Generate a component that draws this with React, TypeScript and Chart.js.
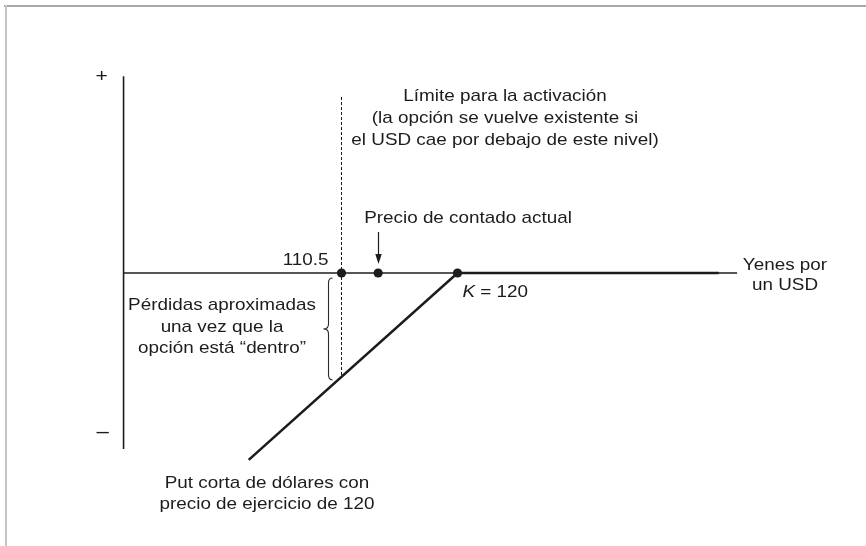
import React, { useEffect, useRef } from "react";
import { Chart, registerables } from "chart.js";

Chart.register(...registerables);

// ---- data (yen per USD on x, payoff on y) ----
const strike = 120;
const barrier = 110.5;
const spot = 113.5;
const payoffX = [102.9, 120, 141.4];
const payoffY = [-17.1, 0, 0];
const axisXRange = [92.65, 142.9];
const axisYRange = [-16.1, 18.0];
const barrierTop = 16.1;
const barrierBottom = -9.5;
const markerX = [barrier, spot, strike];
const markerY = [0, 0, 0];

const INK = "#1e1b1c";
const FONT = '"Liberation Sans", Arial, sans-serif';
const FS = 17;
const SX = 1.11;

function txt(ctx: CanvasRenderingContext2D, s: string, x: number, y: number, align: CanvasTextAlign = "center", style = "", size = FS) {
  ctx.save();
  ctx.font = `${style}${size}px ${FONT}`;
  ctx.fillStyle = INK;
  ctx.textBaseline = "middle";
  ctx.textAlign = align;
  ctx.translate(x, y);
  ctx.scale(SX, 1);
  ctx.fillText(s, 0, 0);
  ctx.restore();
}

const annotations = {
  id: "annotations",
  beforeDraw(chart: any) {
    const ctx = chart.ctx as CanvasRenderingContext2D;
    ctx.save();
    ctx.fillStyle = "#a8a8ac";
    ctx.fillRect(4, 5, 862, 2);
    ctx.fillStyle = "#c4c4c4";
    ctx.fillRect(5, 5, 2, 541);
    ctx.restore();
  },
  afterDraw(chart: any) {
    const ctx = chart.ctx as CanvasRenderingContext2D;
    const xs = chart.scales.x;
    const ys = chart.scales.y;
    const px = (v: number) => xs.getPixelForValue(v);
    const py = (v: number) => ys.getPixelForValue(v);
    const y0 = py(0);

    // + and - signs
    txt(ctx, "+", px(axisXRange[0]) - 22, py(axisYRange[1]) + 1, "center", "", 19);
    txt(ctx, "–", px(axisXRange[0]) - 21, py(axisYRange[0]) - 16, "center", "", 20);

    // barrier text
    txt(ctx, "Límite para la activación", 505, 96);
    txt(ctx, "(la opción se vuelve existente si", 505, 118);
    txt(ctx, "el USD cae por debajo de este nivel)", 505, 140);

    // spot text + arrow
    const sx = Math.round(px(spot)) + 0.5;
    txt(ctx, "Precio de contado actual", 468, 218);
    ctx.save();
    ctx.strokeStyle = INK;
    ctx.fillStyle = INK;
    ctx.lineWidth = 1.2;
    ctx.beginPath();
    ctx.moveTo(sx, 232);
    ctx.lineTo(sx, y0 - 14);
    ctx.stroke();
    ctx.beginPath();
    ctx.moveTo(sx, y0 - 9);
    ctx.lineTo(sx - 3.2, y0 - 19);
    ctx.lineTo(sx + 3.2, y0 - 19);
    ctx.closePath();
    ctx.fill();
    ctx.restore();

    // labels near axis
    txt(ctx, "110.5", px(barrier) - 13, y0 - 13, "right");
    const kx = px(strike) + 5;
    ctx.save();
    ctx.font = `italic ${FS}px ${FONT}`;
    const kw = ctx.measureText("K").width * SX;
    ctx.restore();
    txt(ctx, "K", kx, y0 + 19, "left", "italic ");
    txt(ctx, " = 120", kx + kw, y0 + 19, "left");

    txt(ctx, "Yenes por", 785, 265);
    txt(ctx, "un USD", 785, 285);

    // losses text and brace
    txt(ctx, "Pérdidas aproximadas", 222, 305);
    txt(ctx, "una vez que la", 222, 327);
    txt(ctx, "opción está “dentro”", 222, 348);

    const bx = Math.round(px(barrier) - 14) + 0.5;
    const bt = y0 + 5;
    const bb = py(barrierBottom) + 3;
    const bm = (bt + bb) / 2;
    ctx.save();
    ctx.strokeStyle = "#2a2a2a";
    ctx.lineWidth = 1.1;
    ctx.beginPath();
    ctx.moveTo(bx + 4, bt);
    ctx.quadraticCurveTo(bx, bt, bx, bt + 5);
    ctx.lineTo(bx, bm - 5);
    ctx.quadraticCurveTo(bx, bm, bx - 5, bm);
    ctx.quadraticCurveTo(bx, bm, bx, bm + 5);
    ctx.lineTo(bx, bb - 5);
    ctx.quadraticCurveTo(bx, bb, bx + 4, bb);
    ctx.stroke();
    ctx.restore();

    // short put label
    txt(ctx, "Put corta de dólares con", 267, 483);
    txt(ctx, "precio de ejercicio de 120", 267, 504);
  },
};

export default function App() {
  const ref = useRef<HTMLCanvasElement>(null);
  useEffect(() => {
    document.body.style.margin = "0";
    const canvas = ref.current!;
    const pts = (xs: number[], ys: number[]) => xs.map((x, i) => ({ x, y: ys[i] }));
    const chart = new Chart(canvas, {
      type: "scatter",
      data: {
        datasets: [
          {
            data: pts(markerX, markerY),
            pointRadius: 4.6,
            pointBackgroundColor: INK,
            pointBorderWidth: 0,
            showLine: false,
            order: 0,
            clip: false,
          } as any,
          {
            data: pts(payoffX, payoffY),
            showLine: true,
            borderColor: INK,
            borderWidth: 2.6,
            pointRadius: 0,
            order: 1,
            clip: false,
          } as any,
          {
            data: pts([axisXRange[0], axisXRange[1]], [0, 0]),
            showLine: true,
            borderColor: INK,
            borderWidth: 1.4,
            pointRadius: 0,
            order: 2,
            clip: false,
          } as any,
          {
            data: pts([axisXRange[0], axisXRange[0]], [axisYRange[1], axisYRange[0]]),
            showLine: true,
            borderColor: INK,
            borderWidth: 1.6,
            pointRadius: 0,
            order: 2,
            clip: false,
          } as any,
          {
            data: pts([barrier, barrier], [barrierTop, barrierBottom]),
            showLine: true,
            borderColor: INK,
            borderWidth: 1,
            borderDash: [3, 2],
            pointRadius: 0,
            order: 3,
            clip: false,
          } as any,
        ],
      },
      options: {
        responsive: false,
        maintainAspectRatio: false,
        animation: false,
        events: [],
        layout: { padding: { left: 91.2, right: 42.2, top: 54.4, bottom: 54.4 } },
        plugins: { legend: { display: false }, tooltip: { enabled: false } },
        scales: {
          x: { type: "linear", min: 90, max: 150, display: false },
          y: { type: "linear", min: -20, max: 20, display: false },
        },
      },
      plugins: [annotations],
    });
    return () => chart.destroy();
  }, []);
  return (
    <div style={{ width: 866, height: 546, background: "#fff" }}>
      <canvas ref={ref} width={866} height={546} style={{ display: "block" }} />
    </div>
  );
}
